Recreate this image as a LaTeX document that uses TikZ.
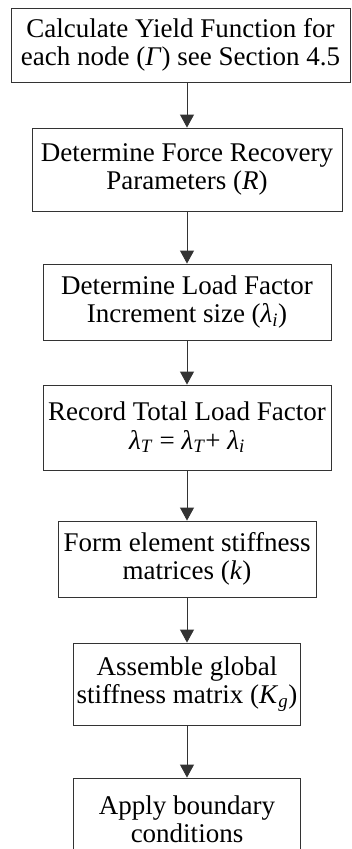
\documentclass[tikz,border=0pt]{standalone}
\usepackage{fontspec}
\setmainfont{Liberation Serif}
\usetikzlibrary{arrows.meta}
\newcommand{\lam}[1]{\textit{λ}\textsubscript{\textit{#1}}}
\begin{document}
\begin{tikzpicture}[x=1pt,y=-1pt,
  box/.style={draw=black!80, line width=0.9pt, inner sep=0pt, align=center,
    font=\fontsize{27}{28.3}\selectfont},
  arr/.style={draw=black!80, line width=0.9pt, -{Triangle[width=14pt,length=13pt]}}]
\clip (0,0) rectangle (351,849);
\node[box, minimum width=339pt, minimum height=74pt] (b1) at (180.5,45)
  {Calculate Yield Function for\\each node (\textit{Γ}) see Section 4.5};
\node[box, minimum width=310pt, minimum height=83pt] (b2) at (187,169.5)
  {Determine Force Recovery\\Parameters (\textit{R})};
\node[box, minimum width=288pt, minimum height=76pt] (b3) at (187,302)
  {Determine Load Factor\\Increment size (\lam{i})};
\node[box, minimum width=288pt, minimum height=85pt] (b4) at (187,427.5)
  {Record Total Load Factor\\\lam{T} = \lam{T}+ \lam{i}};
\node[box, minimum width=258pt, minimum height=76pt] (b5) at (187,559)
  {Form element stiffness\\matrices (\textit{k})};
\node[box, minimum width=227pt, minimum height=82pt] (b6) at (187,684)
  {Assemble global\\stiffness matrix (\textit{K}\textsubscript{\textit{g}})};
\node[box, minimum width=227pt, minimum height=82pt] (b7) at (187,819)
  {Apply boundary\\conditions};
\draw[arr] (b1.south -| b2.north) -- (b2.north);
\draw[arr] (b2.south) -- (b3.north);
\draw[arr] (b3.south) -- (b4.north);
\draw[arr] (b4.south) -- (b5.north);
\draw[arr] (b5.south) -- (b6.north);
\draw[arr] (b6.south) -- (b7.north);
\end{tikzpicture}
\end{document}
